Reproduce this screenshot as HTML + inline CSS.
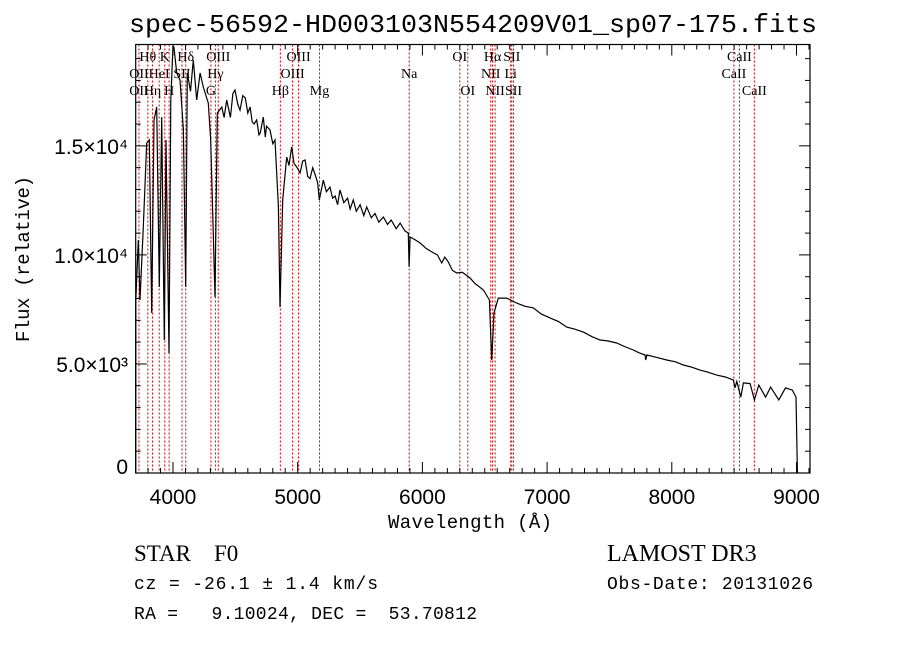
<!DOCTYPE html>
<html><head><meta charset="utf-8"><style>
body{margin:0;background:#fff;}
svg{display:block;}
text{fill:#000;white-space:pre;}
</style></head><body>
<svg id="chart" width="900" height="649" xmlns="http://www.w3.org/2000/svg">
<rect width="900" height="649" fill="#fff"/>
<text x="473" y="32" text-anchor="middle" font-family="Liberation Mono, monospace" font-size="26" textLength="688" lengthAdjust="spacingAndGlyphs">spec-56592-HD003103N554209V01_sp07-175.fits</text>
<g id="lines"></g>
<g id="ticks"></g>
<path id="spec" fill="none" stroke="#000" stroke-width="1.2"/>
<rect x="135.7" y="44.5" width="674.3" height="428.5" fill="none" stroke="#000" stroke-width="1.2"/>
<text x="470" y="528" text-anchor="middle" font-family="Liberation Mono, monospace" font-size="19" textLength="164">Wavelength (Å)</text>
<text transform="translate(29,259) rotate(-90)" text-anchor="middle" font-family="Liberation Mono, monospace" font-size="19" textLength="166">Flux (relative)</text>
<text x="134" y="561" font-family="Liberation Serif, serif" font-size="23" xml:space="preserve">STAR    F0</text>
<text x="607" y="561" font-family="Liberation Serif, serif" font-size="24">LAMOST DR3</text>
<text x="134" y="589" font-family="Liberation Mono, monospace" font-size="18" textLength="244">cz = -26.1 ± 1.4 km/s</text>
<text x="607" y="589" font-family="Liberation Mono, monospace" font-size="18" textLength="206">Obs-Date: 20131026</text>
<text x="134" y="619" font-family="Liberation Mono, monospace" font-size="18" xml:space="preserve" textLength="343">RA =   9.10024, DEC =  53.70812</text>
</svg>
<script>
const wavelengths=[3701,3702,3722,3735,3762,3789,3810,3829,3848,3869,3890,3909,3930,3944,3968,3982,4000,4008,4030,4056,4083,4102,4115,4140,4163,4190,4217,4243,4283,4302,4337,4355,4391,4410,4431,4460,4480,4497,4520,4537,4560,4580,4600,4618,4635,4650,4671,4690,4700,4724,4740,4750,4778,4800,4818,4845,4858,4880,4912,4930,4952,4970,4992,5019,5040,5059,5080,5099,5120,5139,5160,5173,5205,5230,5259,5280,5300,5320,5339,5370,5400,5420,5446,5470,5500,5530,5553,5590,5620,5650,5687,5720,5750,5790,5821,5860,5887,5893,5901,5940,5981,6030,6088,6120,6155,6180,6208,6240,6275,6320,6382,6420,6489,6537,6556,6574,6609,6676,6756,6820,6890,6950,7023,7090,7157,7220,7291,7360,7425,7490,7558,7620,7692,7740,7786,7791,7800,7880,7959,8030,8093,8160,8226,8290,8360,8430,8494,8507,8521,8553,8574,8628,8662,8698,8752,8792,8858,8912,8966,8996,9007];
const fluxes=[0,7900,10680,7930,11280,15130,15270,7340,16190,16780,8530,16320,6100,15270,5500,17100,19600,19500,18340,18020,15730,8530,18340,17500,18940,17100,18340,17700,16960,15270,8070,16500,16780,16300,17100,16300,17400,17560,16900,16640,17300,17200,16500,16780,16100,16000,16190,15500,15600,16320,15400,15900,15730,15100,15270,12200,7610,12520,14490,14100,14950,14200,14030,13760,14300,14350,13600,13500,14000,13700,13300,12520,13430,12900,13110,12600,12700,12300,12980,12400,12600,12100,12520,12000,12300,11800,12200,11700,11900,11500,11740,11400,11600,11200,11460,11100,11000,9450,10820,10700,10550,10300,10090,10000,9630,9900,9680,9300,9170,9200,8940,8700,8390,7930,5180,7340,8020,8020,7790,7650,7570,7300,7110,6950,6690,6600,6460,6250,6100,6050,5960,5800,5640,5500,5410,5180,5410,5300,5180,5100,4950,4850,4720,4620,4490,4400,4260,3900,4200,3480,4130,4100,3350,4030,3480,3940,3350,3900,3800,3480,0];
const lineWaves=[3727,3798,3835,3889,3934,3969,4072,4102,4304,4340,4363,4861,4959,5007,5175,5894,6300,6364,6548,6563,6583,6708,6717,6731,8498,8542,8662];
const labelText=["Hθ","K","Hδ","OIII","OIII","OI","Hα","SII","CaII","OII","HeI","SII","Hγ","OIII","Na","NII","Li","CaII","OII","Hη","H","G","Hβ","Mg","OI","NII","SII","CaII"];
const labelWave=[3798,3934,4102,4363,5007,6300,6563,6717,8542,3727,3889,4072,4340,4959,5894,6548,6708,8498,3727,3835,3969,4304,4861,5175,6364,6583,6731,8662];
const labelRow=[0,0,0,0,0,0,0,0,0,1,1,1,1,1,1,1,1,1,2,2,2,2,2,2,2,2,2,2];
const xTicks=[4000,5000,6000,7000,8000,9000];
const yTicks=[0,5000,10000,15000];
const yTickLabels=["0","5.0×10³","1.0×10⁴","1.5×10⁴"];
const L=135.7,R=810,T=44.5,B=473;
const X=w=>173+(w-4000)*0.1247;
const Y=f=>B-f*0.02181;
const NS="http://www.w3.org/2000/svg";
let d="";
for(let i=0;i<wavelengths.length;i++){d+=(i?"L":"M")+X(wavelengths[i]).toFixed(1)+","+Math.max(T,Y(fluxes[i])).toFixed(1);}
document.getElementById('spec').setAttribute('d',d);
const lg=document.getElementById('lines');
lineWaves.forEach(w=>{const l=document.createElementNS(NS,'line');


l.setAttribute('x1',X(w));l.setAttribute('x2',X(w));l.setAttribute('y1',T);l.setAttribute('y2',B);
l.setAttribute('stroke','#c00');l.setAttribute('stroke-width','1');l.setAttribute('stroke-dasharray','2,2');lg.appendChild(l);});
labelText.forEach((s,i)=>{const t=document.createElementNS(NS,'text');


t.setAttribute('x',X(labelWave[i]));t.setAttribute('y',61+labelRow[i]*17);t.setAttribute('text-anchor','middle');
t.setAttribute('font-family','Liberation Serif, serif');t.setAttribute('font-size','14');t.textContent=s;lg.appendChild(t);});
const tg=document.getElementById('ticks');
function ln(x1,y1,x2,y2){const l=document.createElementNS(NS,'line');


l.setAttribute('x1',x1);l.setAttribute('y1',y1);l.setAttribute('x2',x2);l.setAttribute('y2',y2);l.setAttribute('stroke','#000');tg.appendChild(l);}
for(let w=3800;w<=9100;w+=100){const x=X(w);const maj=w%1000===0;const len=maj?11:5;ln(x,B,x,B-len);ln(x,T,x,T+len);}
for(let f=0;f<=19000;f+=1000){const y=Y(f);const maj=f%5000===0;const len=maj?11:5;ln(L,y,L+len,y);ln(R,y,R-len,y);}
xTicks.forEach(w=>{const t=document.createElementNS(NS,'text');


t.setAttribute('x',X(w));t.setAttribute('y',504);t.setAttribute('text-anchor','middle');t.setAttribute('font-family','Liberation Sans, sans-serif');t.setAttribute('font-size','21');t.textContent=w;tg.appendChild(t);});
yTicks.forEach((f,i)=>{const t=document.createElementNS(NS,'text');


t.setAttribute('x',128);t.setAttribute('y',Y(f)+8-(f===0?7:0));t.setAttribute('text-anchor','end');t.setAttribute('font-family','Liberation Sans, sans-serif');t.setAttribute('font-size','21');t.textContent=yTickLabels[i];tg.appendChild(t);});
</script>
</body></html>
